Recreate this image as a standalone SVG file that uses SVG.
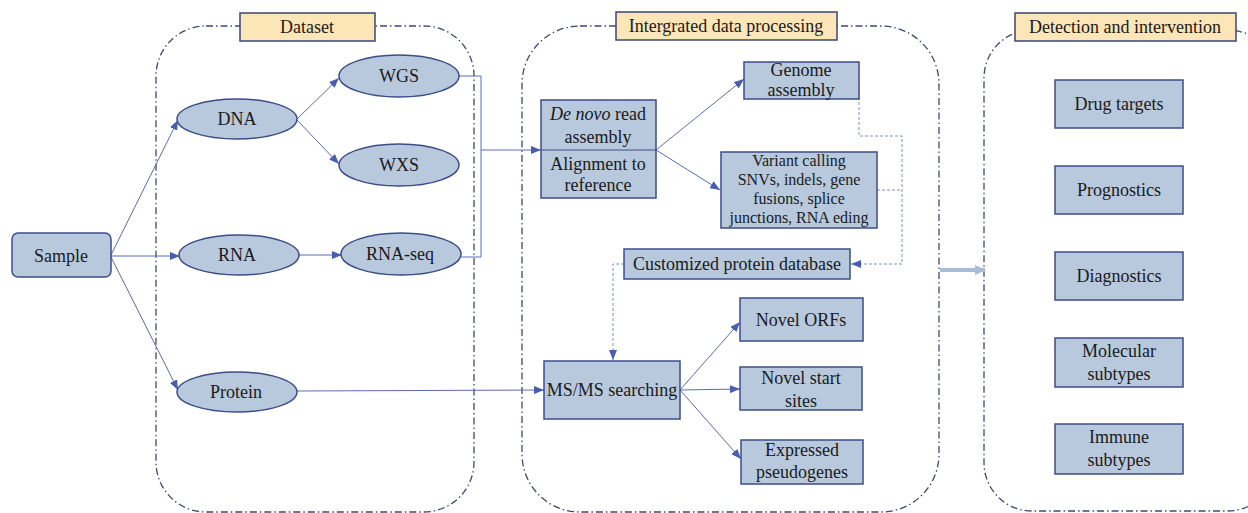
<svg xmlns="http://www.w3.org/2000/svg" width="1248" height="513" viewBox="0 0 1248 513">
<style>
text{font-family:"Liberation Serif","Times New Roman",serif;font-size:18px;fill:#1a1a1a;text-anchor:middle}
.sm{font-size:16px}
.cont{fill:none;stroke:#3f4874;stroke-width:1.3;stroke-dasharray:7 3 1.5 3}
.lab{fill:#fce5b6;stroke:#3b4678;stroke-width:1.5}
.box{fill:#b8c9de;stroke:#3e4c88;stroke-width:1.5}
.con{fill:none;stroke:#5a6cb6;stroke-width:1}
.dash{fill:none;stroke:#7f8ec6;stroke-width:1;stroke-dasharray:3 2}
</style>
<defs>
<marker id="ah" markerWidth="10" markerHeight="8" refX="10" refY="4" orient="auto" markerUnits="userSpaceOnUse"><path d="M0,0 L10,4 L0,8 z" fill="#4b5db0"/></marker>
<marker id="big" markerWidth="12" markerHeight="12" refX="10" refY="6" orient="auto" markerUnits="userSpaceOnUse"><path d="M0,1 L11,6 L0,11 z" fill="#a7bcd6"/></marker>
</defs>
<rect width="1248" height="513" fill="#ffffff"/>

<g id="containers">
<rect class="cont" x="156" y="26" width="318" height="486" rx="50"/>
<rect class="cont" x="522" y="26" width="417" height="486" rx="58"/>
<rect class="cont" x="984" y="30" width="292" height="481" rx="48"/>
</g>

<g id="connectors">
<line class="con" x1="111" y1="255" x2="178" y2="120" marker-end="url(#ah)"/>
<line class="con" x1="111" y1="256" x2="180" y2="256" marker-end="url(#ah)"/>
<line class="con" x1="111" y1="257" x2="178" y2="390" marker-end="url(#ah)"/>
<line class="con" x1="297" y1="119" x2="339" y2="78" marker-end="url(#ah)"/>
<line class="con" x1="297" y1="120" x2="339" y2="164" marker-end="url(#ah)"/>
<line class="con" x1="299" y1="255" x2="342" y2="255" marker-end="url(#ah)"/>
<path class="con" d="M459,76 H481 V257 H461"/>
<line class="con" x1="481" y1="150" x2="541" y2="150" marker-end="url(#ah)"/>
<line class="con" x1="297" y1="391" x2="544" y2="390" marker-end="url(#ah)"/>
<line class="con" x1="656" y1="150" x2="744" y2="79" marker-end="url(#ah)"/>
<line class="con" x1="656" y1="150" x2="720" y2="190" marker-end="url(#ah)"/>
<path class="dash" d="M859,82 V136 H902 V264 H851" marker-end="url(#ah)"/>
<path class="dash" d="M877,190 H902"/>
<path class="dash" d="M624,264 H613 V360" marker-end="url(#ah)"/>
<line class="con" x1="680" y1="390" x2="740" y2="322" marker-end="url(#ah)"/>
<line class="con" x1="680" y1="390" x2="740" y2="389" marker-end="url(#ah)"/>
<line class="con" x1="680" y1="390" x2="741" y2="459" marker-end="url(#ah)"/>
<line x1="940" y1="270" x2="985" y2="270" stroke="#a7bcd6" stroke-width="4" marker-end="url(#big)"/>
</g>

<g id="label-dataset"><rect class="lab" x="240" y="13" width="135" height="28"/><text x="307" y="33">Dataset</text></g>
<g id="label-processing"><rect class="lab" x="616" y="12" width="221" height="28"/><text x="726" y="32">Intergrated data processing</text></g>
<g id="label-detection"><rect class="lab" x="1015" y="13" width="221" height="28"/><text x="1125" y="33">Detection and intervention</text></g>

<g id="sample"><rect class="box" x="12" y="233" width="99" height="44" rx="6"/><text x="61" y="262">Sample</text></g>
<g id="dna"><ellipse class="box" cx="237" cy="119" rx="60" ry="20"/><text x="237" y="125">DNA</text></g>
<g id="wgs"><ellipse class="box" cx="399" cy="76" rx="60" ry="21"/><text x="399" y="82">WGS</text></g>
<g id="wxs"><ellipse class="box" cx="399" cy="165" rx="60" ry="21"/><text x="399" y="171">WXS</text></g>
<g id="rna"><ellipse class="box" cx="239" cy="255" rx="60" ry="20"/><text x="237" y="261">RNA</text></g>
<g id="rnaseq"><ellipse class="box" cx="401" cy="254" rx="60" ry="21"/><text x="400" y="260">RNA-seq</text></g>
<g id="protein"><ellipse class="box" cx="237" cy="392" rx="60" ry="20"/><text x="236" y="398">Protein</text></g>

<g id="denovo"><rect class="box" x="541" y="100" width="115" height="98"/><line x1="541" y1="150" x2="656" y2="150" stroke="#3e4c88" stroke-width="1"/>
<text x="598" y="120"><tspan font-style="italic">De novo</tspan> read</text>
<text x="598" y="143">assembly</text>
<text x="598" y="170">Alignment to</text>
<text x="598" y="191">reference</text></g>
<g id="genome"><rect class="box" x="744" y="62" width="115" height="37"/><text x="801" y="76">Genome</text><text x="801" y="96">assembly</text></g>
<g id="variant"><rect class="box" x="721" y="152" width="156" height="76"/>
<text class="sm" x="799" y="166">Variant calling</text>
<text class="sm" x="799" y="185">SNVs, indels, gene</text>
<text class="sm" x="799" y="204">fusions, splice</text>
<text class="sm" x="799" y="223">junctions, RNA eding</text></g>
<g id="customdb"><rect class="box" x="624" y="249" width="226" height="30"/><text x="737" y="270">Customized protein database</text></g>
<g id="msms"><rect class="box" x="544" y="361" width="136" height="58"/><text x="612" y="396">MS/MS searching</text></g>
<g id="orfs"><rect class="box" x="740" y="298" width="123" height="43"/><text x="801" y="326">Novel ORFs</text></g>
<g id="start"><rect class="box" x="740" y="367" width="122" height="43"/><text x="801" y="384">Novel start</text><text x="801" y="407">sites</text></g>
<g id="pseudo"><rect class="box" x="741" y="440" width="122" height="44"/><text x="802" y="456">Expressed</text><text x="802" y="478">pseudogenes</text></g>

<g id="drug"><rect class="box" x="1055" y="80" width="128" height="48"/><text x="1119" y="110">Drug targets</text></g>
<g id="prog"><rect class="box" x="1055" y="166" width="128" height="48"/><text x="1119" y="196">Prognostics</text></g>
<g id="diag"><rect class="box" x="1055" y="252" width="128" height="48"/><text x="1119" y="282">Diagnostics</text></g>
<g id="mol"><rect class="box" x="1055" y="338" width="128" height="49"/><text x="1119" y="357">Molecular</text><text x="1119" y="380">subtypes</text></g>
<g id="imm"><rect class="box" x="1055" y="424" width="128" height="50"/><text x="1119" y="443">Immune</text><text x="1119" y="466">subtypes</text></g>
</svg>
